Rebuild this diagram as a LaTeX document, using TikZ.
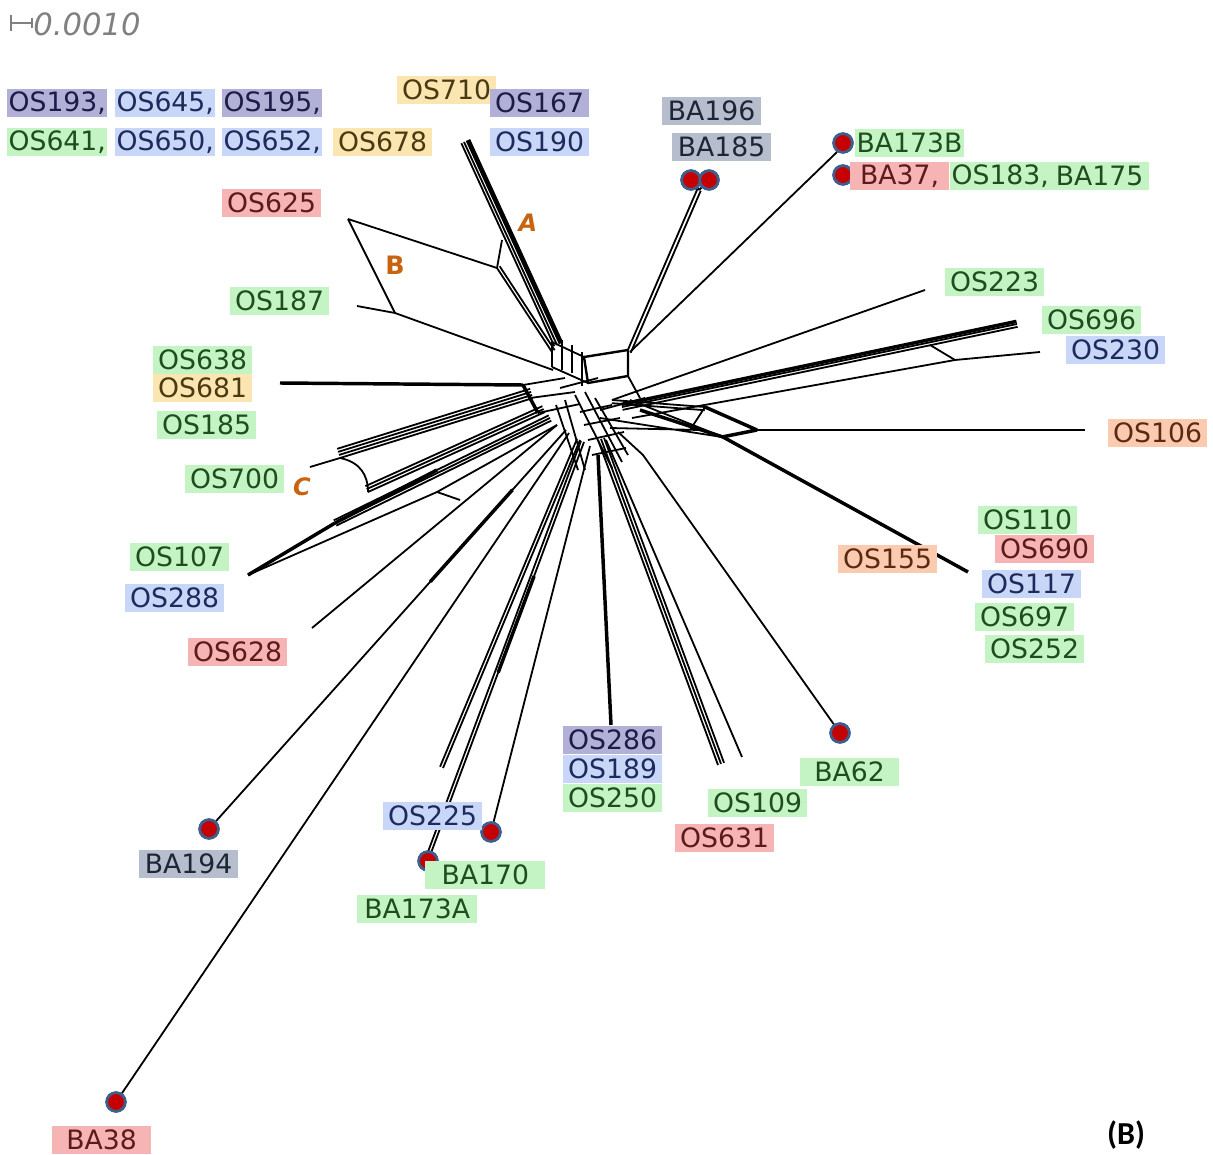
\documentclass[tikz,border=0pt]{standalone}
\usepackage{fontspec}
\setmainfont{DejaVu Sans}
\newfontfamily\bfont{Carlito}
\usetikzlibrary{calc}
\definecolor{gbg}{HTML}{C4F4C4}\definecolor{gtx}{HTML}{1E4E1E}
\definecolor{bbg}{HTML}{C8D6F8}\definecolor{btx}{HTML}{1E2A5C}
\definecolor{pbg}{HTML}{B2B0D6}\definecolor{ptx}{HTML}{1C1C48}
\definecolor{rbg}{HTML}{F6B4B4}\definecolor{rtx}{HTML}{5E1A1A}
\definecolor{ybg}{HTML}{FBE6B2}\definecolor{ytx}{HTML}{4A3A12}
\definecolor{obg}{HTML}{FACBAE}\definecolor{otx}{HTML}{5A2A12}
\definecolor{sbg}{HTML}{B6BECE}\definecolor{stx}{HTML}{1E2636}
\definecolor{dotred}{HTML}{C40000}\definecolor{dotblue}{HTML}{3E5E8E}
\definecolor{letter}{HTML}{C8640F}
\newcommand{\netline}[3]{\draw[edge] ($(#1)!#3!90:(#2)$) -- ($(#2)!#3!-90:(#1)$);}
\tikzset{
  edge/.style={draw=black, line width=1.35pt, line join=round},
  thickedge/.style={draw=black, line width=2.6pt, line join=round},
  lab/.style={anchor=west, inner xsep=1pt, inner ysep=0pt, minimum height=21pt, minimum width=74pt, font=\fontsize{20}{22}\selectfont},
  gl/.style={lab, fill=gbg, text=gtx},
  bl/.style={lab, fill=bbg, text=btx},
  pl/.style={lab, fill=pbg, text=ptx},
  rl/.style={lab, fill=rbg, text=rtx},
  yl/.style={lab, fill=ybg, text=ytx},
  ol/.style={lab, fill=obg, text=otx},
  sl/.style={lab, fill=sbg, text=stx},
  dot/.style={circle, fill=dotred, draw=dotblue, line width=2pt, minimum size=14pt, inner sep=0pt},
  letr/.style={text=letter, font=\fontsize{18}{20}\selectfont\bfseries\itshape}
}
\begin{document}
\begin{tikzpicture}[x=0.75pt,y=-0.75pt]
\useasboundingbox[fill=white] (0,0) rectangle (1213,1155);

% scale bar
\coordinate (sb1) at (11,23); \coordinate (sb2) at (32,23);
\draw[gray, line width=1.2pt] (sb1) -- (sb2) ($(sb1)+(0,-8)$) -- ($(sb1)+(0,8)$) ($(sb2)+(0,-5)$) -- ($(sb2)+(0,5)$);
\node[anchor=west, text=gray, font=\fontsize{23}{25}\selectfont\itshape, inner sep=0pt] (scale) at (33,24) {0.0010};

% ---------- leaf tips and junctions ----------
\coordinate (tA) at (464,142);   \coordinate (bA) at (557,345);
\coordinate (tB) at (348,219);   \coordinate (jB1) at (497,268);
\coordinate (jB2) at (395,313);  \coordinate (jB3) at (502,240);
\coordinate (t187) at (357,306); \coordinate (cB) at (553,370);
\coordinate (bB) at (552,352);
\coordinate (t185) at (699,190); \coordinate (b185) at (629,352);
\coordinate (t173) at (836,153); \coordinate (b173) at (630,352);
\coordinate (t223) at (925,290); \coordinate (b223) at (612,400);
\coordinate (t696) at (1017,324);\coordinate (b696) at (622,407);
\coordinate (t230) at (1040,352);\coordinate (j230a) at (955,360);\coordinate (j230b) at (930,345);
\coordinate (b230) at (632,418);
\coordinate (t106) at (1085,430);\coordinate (j106) at (757,430);
\coordinate (j106a) at (705,407);\coordinate (j106b) at (722,437);
\coordinate (t110) at (968,572); \coordinate (j155) at (723,437); \coordinate (b155) at (640,410);
\coordinate (t638) at (280,383); \coordinate (j638) at (523,385);
\coordinate (tC) at (310,467);   \coordinate (jC1) at (340,458); \coordinate (jC2) at (368,492);
\coordinate (bC1) at (533,398);  \coordinate (bC2) at (545,412);
\coordinate (t107) at (248,575); \coordinate (j107) at (335,523); \coordinate (b107) at (550,418);
\coordinate (t628) at (312,628); \coordinate (b628) at (557,425);
\coordinate (b194) at (566,430); \coordinate (b38) at (569,433);
\coordinate (t443) at (443,768); \coordinate (b443) at (580,440);
\coordinate (b173a) at (584,442);\coordinate (b170) at (590,446);
\coordinate (t286) at (611,725); \coordinate (b286) at (598,455);
\coordinate (t109) at (718,765); \coordinate (b109) at (598,440);
\coordinate (t109b) at (742,757);\coordinate (b109b) at (606,440);
\coordinate (j62) at (643,455);  \coordinate (b62) at (618,432);

% dots
\node[dot] (d196) at (691,180) {};
\node[dot] (d185) at (709,180) {};
\node[dot] (d173b) at (843,143) {};
\node[dot] (d37) at (843,175) {};
\node[dot] (d62) at (840,733) {};
\node[dot] (d170) at (491,832) {};
\node[dot] (d173a) at (428,861) {};
\node[dot] (d194) at (209,829) {};
\node[dot] (d38) at (116,1102) {};

% ---------- A ----------
\foreach \o in {-2.2,0,2.2,4.4} {\netline{tA}{bA}{\o pt}}
\draw[thickedge] ($(tA)!3.3pt!90:(bA)$) -- ($(bA)!3.3pt!-90:(tA)$);
% ---------- B ----------
\draw[edge] (tB) -- (jB1);
\draw[edge] (tB) -- (jB2);
\draw[edge] (jB1) -- (jB3);
\draw[edge] (t187) -- (jB2) -- (cB);
\foreach \o in {0,2.4} {\netline{jB1}{bB}{\o pt}}
% ---------- BA196 / BA185 ----------
\foreach \o in {-1.4,1.4} {\netline{t185}{b185}{\o pt}}
\draw[edge] (d196) -- (t185) (d185) -- (t185);
% ---------- BA173B ----------
\draw[edge] (d173b) -- (t173) -- (b173);
% ---------- central box & bars ----------
\draw[edge, line width=1.8pt] (584,357) -- (628,350) -- (628,376) -- (588,383) -- cycle;
\draw[edge, line width=1.8pt] (552,342) -- (552,367) (562,340) -- (562,370) (572,345) -- (572,373) (582,352) -- (582,386);
\draw[edge] (552,342) -- (584,357) (552,367) -- (588,383);
\draw[edge] (628,376) -- (640,398);
% left box
\draw[thickedge] (j638) -- (538,413);
\draw[edge] (j638) -- (565,378) (538,413) -- (580,404) (530,398) -- (575,392);
% lower grid
\draw[edge] (575,395) -- (612,468) (585,392) -- (622,462) (595,398) -- (628,455);
\draw[edge] (580,412) -- (612,405) (584,425) -- (620,418) (588,440) -- (624,432) (592,455) -- (626,448);
\draw[edge] (565,400) -- (585,470) (556,405) -- (578,470);
\draw[edge] (560,388) -- (598,378) (600,410) -- (645,398);
% ---------- right side ----------
\draw[edge] (t223) -- (b223);
\foreach \o in {0,2.2} {\netline{t696}{b696}{\o pt}}
\draw[thickedge] ($(t696)!-2pt!90:(b696)$) -- ($(b696)!-2pt!-90:(t696)$);
\draw[edge] (t230) -- (j230a) -- (j230b);
\draw[edge] (j230a) -- (b230);
\draw[edge] (t106) -- (j106);
\draw[thickedge] (j106) -- (j106a) (j106) -- (j106b);
\foreach \o in {0,2.4} {\netline{j106a}{b223}{\o pt}}
\draw[edge] (j106b) -- (600,418) (700,430) -- (610,428);
\draw[thickedge] (t110) -- (j155) -- (b155);
\draw[edge] (j155) -- (630,400) (j106a) -- (690,430);
% ---------- left side ----------
\draw[thickedge] (t638) -- (j638);
\draw[edge] (tC) -- (jC1);
\draw[edge] (jC1) .. controls (360,462) and (368,475) .. (jC2);
\foreach \o in {0,2.4,4.8,7.2} {\netline{jC1}{bC1}{\o pt}}
\foreach \o in {0,2.4,4.8} {\netline{jC2}{bC2}{\o pt}}
\draw[thickedge] (t107) -- (j107);
\foreach \o in {-2.2,0,2.2} {\netline{j107}{b107}{\o pt}}
\draw[thickedge] (j107) -- (437,470);
\draw[edge] (t107) -- (437,492) -- (b628);
\draw[edge] (437,492) -- (460,500);
\draw[edge] (t628) -- (b628);
\draw[edge] (d194) -- (b194);
\draw[thickedge] ($(d194)!0.62!(b194)$) -- ($(d194)!0.85!(b194)$);
\draw[edge] (d38) -- (b38);
% ---------- bottom ----------
\foreach \o in {0,2.4} {\netline{t443}{b443}{\o pt}}
\foreach \o in {0,2.4} {\netline{d173a}{b173a}{\o pt}}
\draw[thickedge] ($(d173a)!0.45!(b173a)$) -- ($(d173a)!0.68!(b173a)$);
\draw[edge] (d170) -- (b170);
\draw[thickedge] (t286) -- (b286);
\foreach \o in {0,2.4,4.8} {\netline{b109}{t109}{\o pt}}
\draw[edge] (t109b) -- (b109b);
\draw[edge] (d62) -- (j62) -- (b62);

% redraw dots above lines
\node[dot] at (d196) {};
\node[dot] at (d185) {};
\node[dot] at (d173b) {};
\node[dot] at (d37) {};
\node[dot] at (d62) {};
\node[dot] at (d170) {};
\node[dot] at (d173a) {};
\node[dot] at (d194) {};
\node[dot] at (d38) {};

% ---------- labels ----------
\node[pl] (l193) at (7,103) {OS193,};
\node[bl] (l645) at (115,103) {OS645,};
\node[pl] (l195) at (222,103) {OS195,};
\node[gl] (l641) at (7,142) {OS641,};
\node[bl] (l650) at (115,142) {OS650,};
\node[bl] (l652) at (222,142) {OS652,};
\node[yl] (l678) at (333,142) {OS678};
\node[yl] (l710) at (397,90) {OS710};
\node[pl] (l167) at (490,103) {OS167};
\node[bl] (l190) at (490,142) {OS190};
\node[sl] (l196) at (662,111) {BA196};
\node[sl] (l185) at (672,147) {BA185};
\node[gl] (l173b) at (855,143) {BA173B};
\node[rl] (l37) at (850,176) {BA37,};
\node[gl] (l183) at (950,176) {OS183,};
\node[gl] (l175) at (1050,176) {BA175};
\node[rl] (l625) at (222,203) {OS625};
\node[gl] (l187) at (230,301) {OS187};
\node[gl] (l223) at (945,282) {OS223};
\node[gl] (l696) at (1042,320) {OS696};
\node[bl] (l230) at (1066,350) {OS230};
\node[gl] (l638) at (153,360) {OS638};
\node[yl] (l681) at (153,388) {OS681};
\node[gl] (l185b) at (157,425) {OS185};
\node[ol] (l106) at (1108,433) {OS106};
\node[gl] (l700) at (185,479) {OS700};
\node[gl] (l110) at (978,520) {OS110};
\node[rl] (l690) at (995,549) {OS690};
\node[ol] (l155) at (838,559) {OS155};
\node[bl] (l117) at (982,584) {OS117};
\node[gl] (l697) at (975,617) {OS697};
\node[gl] (l252) at (985,649) {OS252};
\node[gl] (l107) at (130,557) {OS107};
\node[bl] (l288) at (125,598) {OS288};
\node[rl] (l628) at (188,652) {OS628};
\node[gl] (l62) at (800,772) {BA62};
\node[pl] (l286) at (563,740) {OS286};
\node[bl] (l189) at (563,769) {OS189};
\node[gl] (l250) at (563,798) {OS250};
\node[gl] (l109) at (708,803) {OS109};
\node[rl] (l631) at (675,838) {OS631};
\node[bl] (l225) at (383,816) {OS225};
\node[gl, minimum width=90pt] (l170) at (425,875) {BA170};
\node[gl, minimum width=90pt] (l173a) at (357,909) {BA173A};
\node[sl] (l194) at (139,864) {BA194};
\node[rl] (l38) at (52,1140) {BA38};

% split letters
\node[letr] (lA) at (528,223) {A};
\node[letr, font=\fontsize{19}{21}\selectfont\bfseries] (lB) at (395,265) {B};
\node[letr] (lC) at (302,487) {C};

\node[font=\bfont\fontsize{24}{26}\selectfont\bfseries] (panel) at (1126,1135) {(B)};
\end{tikzpicture}
\end{document}
